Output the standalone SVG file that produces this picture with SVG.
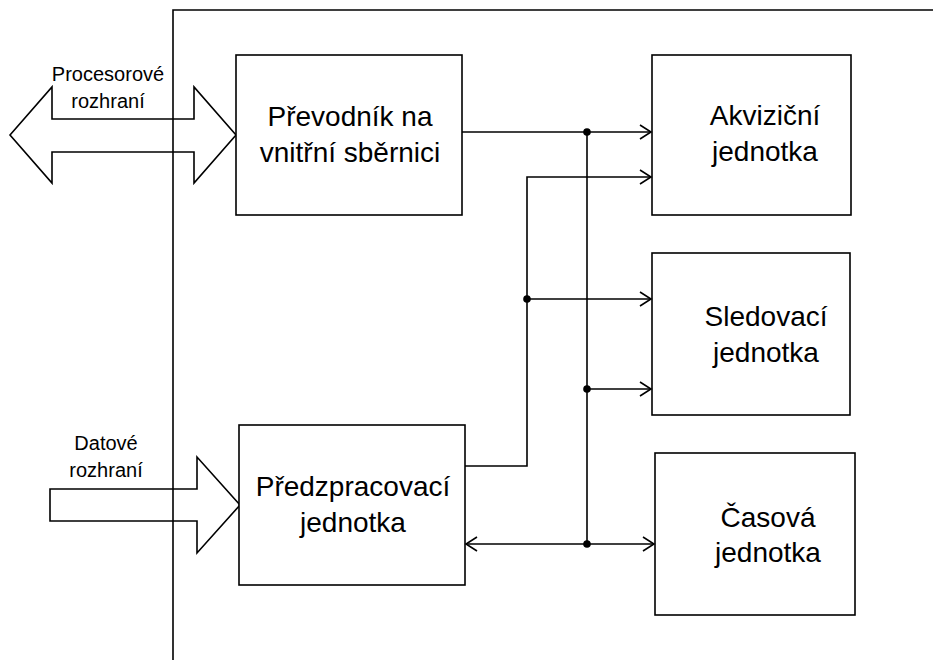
<svg xmlns="http://www.w3.org/2000/svg" width="933" height="660" viewBox="0 0 933 660">
<style>
.box{fill:#fff;stroke:#000;stroke-width:1.6}
.ln{fill:none;stroke:#000;stroke-width:1.6}
.big{font-family:"Liberation Sans",Arial,sans-serif;font-size:28px;fill:#000;text-anchor:middle}
.sm{font-family:"Liberation Sans",Arial,sans-serif;font-size:20px;fill:#000;text-anchor:middle}
.dot{fill:#000}
</style>
<defs>
<marker id="ah" markerWidth="14" markerHeight="16" refX="12" refY="8" orient="auto-start-reverse" markerUnits="userSpaceOnUse">
<path d="M1,1 L12,8 L1,15" fill="none" stroke="#000" stroke-width="1.6"/>
</marker>
</defs>
<rect width="933" height="660" fill="#fff"/>
<g id="frame">
<path class="ln" d="M173,660 L173,10 L933,10"/>
</g>
<g id="procesorove-rozhrani">
<path class="box" d="M10,135 L52,87 L52,119 L194,119 L194,87 L236,135 L194,183 L194,152 L52,152 L52,183 Z" style="fill:none"/>
<text class="sm" x="108" y="81">Procesorové</text>
<text class="sm" x="108" y="108">rozhraní</text>
</g>
<g id="datove-rozhrani">
<path class="box" d="M50,489 L197,489 L197,457 L240,505 L197,553 L197,521 L50,521 Z" style="fill:none"/>
<text class="sm" x="106" y="450">Datové</text>
<text class="sm" x="106" y="477">rozhraní</text>
</g>
<g id="prevodnik">
<rect class="box" x="236" y="55" width="226" height="160"/>
<text class="big" x="350" y="126">Převodník na</text>
<text class="big" x="350" y="162">vnitřní sběrnici</text>
</g>
<g id="predzpracovaci">
<rect class="box" x="239" y="425" width="226" height="160"/>
<text class="big" x="353" y="496">Předzpracovací</text>
<text class="big" x="353" y="532">jednotka</text>
</g>
<g id="akvizicni">
<rect class="box" x="652" y="55" width="199" height="160"/>
<text class="big" x="765" y="125">Akviziční</text>
<text class="big" x="765" y="161">jednotka</text>
</g>
<g id="sledovaci">
<rect class="box" x="652" y="253" width="198" height="162"/>
<text class="big" x="766" y="326">Sledovací</text>
<text class="big" x="766" y="362">jednotka</text>
</g>
<g id="casova">
<rect class="box" x="655" y="453" width="200" height="162"/>
<text class="big" x="768" y="527">Časová</text>
<text class="big" x="768" y="562">jednotka</text>
</g>
<g id="connectors">
<path class="ln" d="M462,132 L651,132" marker-end="url(#ah)"/>
<path class="ln" d="M587,132 L587,544"/>
<path class="ln" d="M587,389 L651,389" marker-end="url(#ah)"/>
<path class="ln" d="M466,544 L654,544" marker-start="url(#ah)" marker-end="url(#ah)"/>
<path class="ln" d="M465,466 L527,466 L527,177 L651,177" marker-end="url(#ah)"/>
<path class="ln" d="M527,299 L651,299" marker-end="url(#ah)"/>
<circle class="dot" cx="587" cy="132" r="3.8"/>
<circle class="dot" cx="587" cy="389" r="3.8"/>
<circle class="dot" cx="587" cy="544" r="3.8"/>
<circle class="dot" cx="527" cy="299" r="3.8"/>
</g>
</svg>
